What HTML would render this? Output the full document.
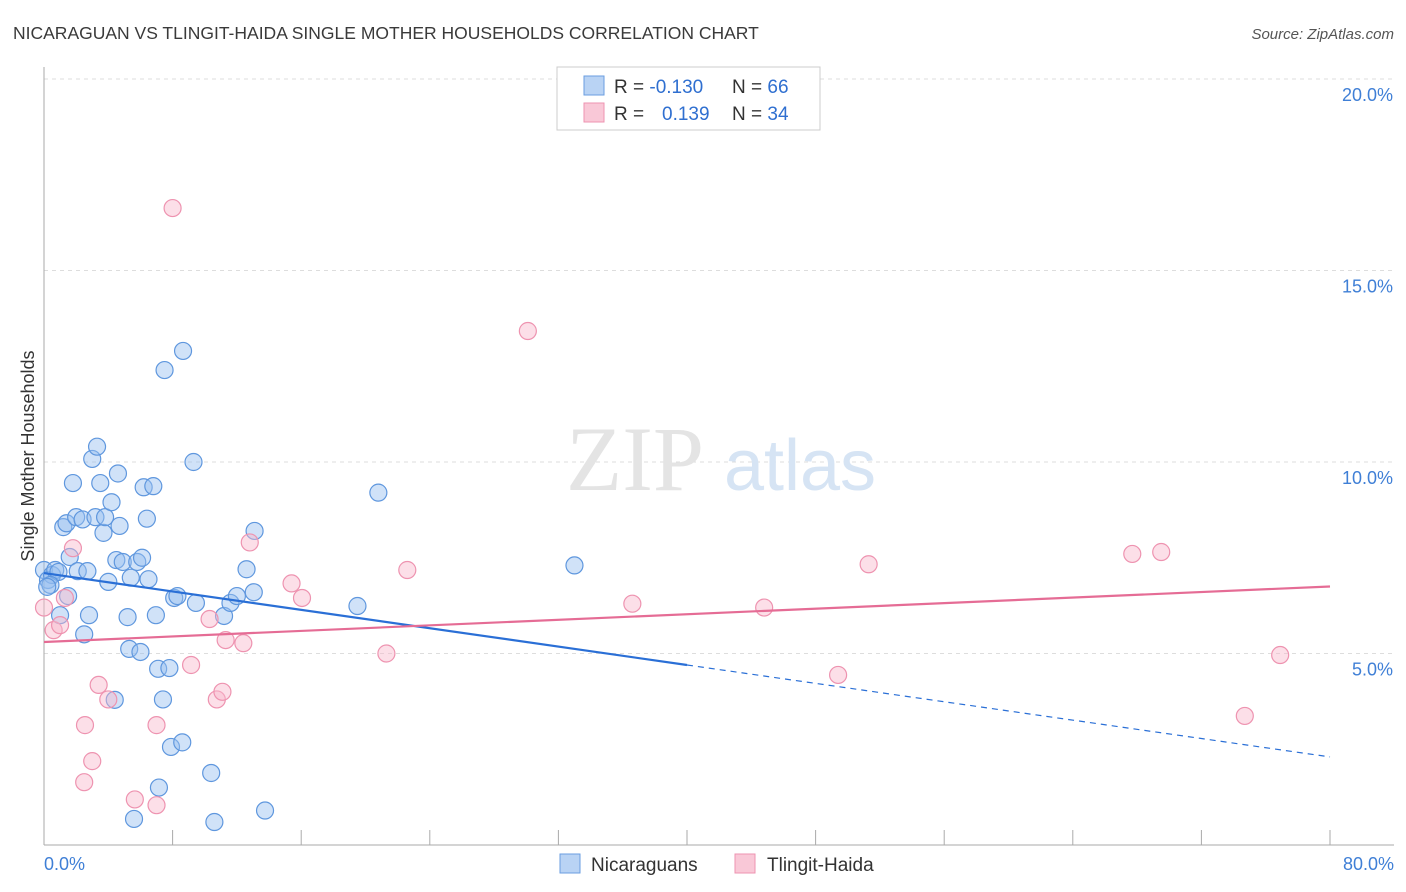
<!DOCTYPE html>
<html><head><meta charset="utf-8">
<style>
body{margin:0;background:#fff;font-family:"Liberation Sans",sans-serif;}
svg{display:block}
</style></head>
<body>
<svg id="chart" width="1406" height="892" viewBox="0 0 1406 892" xmlns="http://www.w3.org/2000/svg">
<text x="13" y="39" font-size="17.5" fill="#3a3a3a">NICARAGUAN VS TLINGIT-HAIDA SINGLE MOTHER HOUSEHOLDS CORRELATION CHART</text>
<text x="1394" y="39" font-size="15" fill="#555" text-anchor="end" font-style="italic">Source: ZipAtlas.com</text>
<g id="grid"></g>
<g>
<text x="635" y="490" font-size="92" font-family="Liberation Serif,serif" fill="#e4e4e4" text-anchor="middle">ZIP</text>
<text x="800" y="490" font-size="72" fill="#d6e4f4" text-anchor="middle">atlas</text>
</g>
<text transform="translate(34,456) rotate(-90)" font-size="18" fill="#333" text-anchor="middle">Single Mother Households</text>
<g id="pts"></g>
<g id="lines"></g>
<g>
<rect x="557" y="67" width="263" height="63" fill="#fff" stroke="#ccc"/>
<rect x="584" y="76" width="20" height="19" fill="#b9d3f4" stroke="#6a9ee0"/>
<rect x="584" y="103" width="20" height="19" fill="#f9c8d7" stroke="#ee93b0"/>
<text x="614" y="93" font-size="19" fill="#333">R = <tspan fill="#2f6fd0">-0.130</tspan></text>
<text x="732" y="93" font-size="19" fill="#333">N = <tspan fill="#2f6fd0">66</tspan></text>
<text x="614" y="120" font-size="19" fill="#333">R = <tspan fill="#2f6fd0" x="662">0.139</tspan></text>
<text x="732" y="120" font-size="19" fill="#333">N = <tspan fill="#2f6fd0">34</tspan></text>
</g>
<g>
<rect x="560" y="854" width="20" height="19" fill="#b9d3f4" stroke="#6a9ee0"/>
<text x="591" y="871" font-size="19" fill="#333">Nicaraguans</text>
<rect x="735" y="854" width="20" height="19" fill="#f9c8d7" stroke="#ee93b0"/>
<text x="767" y="871" font-size="19" fill="#333">Tlingit-Haida</text>
</g>
</svg>
<script>
const yTicks=[5,10,15,20];
const yTickLabels=["5.0%","10.0%","15.0%","20.0%"];
const xTickVals=[8,16,24,32,40,48,56,64,72,80];
const blueX=[0,0.25,0.5,0.7,0.9,0.4,0.2,1.0,1.2,1.4,1.6,1.5,1.8,2.0,2.1,2.4,2.5,2.7,2.8,3.0,3.2,3.3,3.5,3.7,3.8,4.0,4.2,4.4,4.5,4.6,4.7,4.9,5.2,5.3,5.4,5.6,5.8,6.0,6.1,6.2,6.4,6.5,6.8,6.96,7.1,7.15,7.4,7.5,7.8,7.9,8.1,8.3,8.6,8.65,9.3,9.45,10.4,10.6,11.2,11.6,12.0,12.6,13.05,13.1,13.75,19.5,20.8,33.0];
const blueY=[7.18,6.92,7.05,7.18,7.13,6.79,6.74,6.0,8.3,8.4,7.52,6.5,9.45,8.56,7.15,8.5,5.5,7.15,6.0,10.08,8.56,10.4,9.45,8.15,8.56,6.87,8.95,3.79,7.44,9.7,8.33,7.39,5.95,5.12,6.98,0.68,7.39,5.04,7.5,9.34,8.52,6.94,9.37,6.0,4.6,1.5,3.8,12.4,4.62,2.56,6.45,6.5,2.68,12.9,10.0,6.32,1.88,0.6,5.98,6.32,6.5,7.2,6.6,8.2,0.9,6.24,9.2,7.3];
const pinkX=[8.0,30.1,0,0.6,1.0,1.3,1.8,2.55,2.5,3.0,3.4,4.0,5.65,7.0,7.0,9.15,10.3,10.75,11.1,11.3,12.4,12.8,15.4,16.05,21.3,22.6,36.6,44.8,49.4,51.3,67.7,69.5,76.9,74.7];
const pinkY=[16.63,13.42,6.2,5.61,5.74,6.45,7.75,3.13,1.64,2.19,4.18,3.8,1.19,1.04,3.13,4.7,5.9,3.8,4.0,5.35,5.27,7.9,6.83,6.45,5.0,7.18,6.3,6.2,4.44,7.33,7.6,7.65,4.96,3.37];
const blueTrend=[7.1,2.3]; // values at x=0 and x=80
const pinkTrend=[5.3,6.75];
const solidEnd=40;
const X=v=>44+v*(1286/80), Y=v=>845-v*38.3;
const NS="http://www.w3.org/2000/svg";
function mk(tag,attrs,parent){const e=document.createElementNS(NS,tag);for(const k in attrs)e.setAttribute(k,attrs[k]);parent.appendChild(e);return e;}
const grid=document.getElementById('grid');
yTicks.forEach((t,i)=>{
 const l=mk('line',{x1:44,x2:1394,y1:Y(t),y2:Y(t),stroke:'#ddd','stroke-dasharray':'4,4'},grid);
 
 
 const tx=mk('text',{x:1393,y:Y(t)+22,'font-size':18,fill:'#3f7fd6','text-anchor':'end'},grid);
 tx.textContent=yTickLabels[i];
 
 
});
const ax=mk('line',{x1:44,x2:44,y1:67,y2:845,stroke:'#aaa'},grid);


const bx=mk('line',{x1:44,x2:1394,y1:845,y2:845,stroke:'#aaa'},grid);


xTickVals.forEach(t=>{
 const l=mk('line',{x1:X(t),x2:X(t),y1:830,y2:845,stroke:'#aaa'},grid);
 
 
});
const xl0=mk('text',{x:44,y:870,'font-size':18,fill:'#3f7fd6'},grid);xl0.textContent='0.0%';


const xl1=mk('text',{x:1394,y:870,'font-size':18,fill:'#3f7fd6','text-anchor':'end'},grid);xl1.textContent='80.0%';


const pts=document.getElementById('pts');
blueX.forEach((v,i)=>{
 const c=mk('circle',{cx:X(v),cy:Y(blueY[i]),r:8.5,fill:'rgba(150,190,240,0.45)',stroke:'#5f97de','stroke-width':1.2},pts);
 
 
});
pinkX.forEach((v,i)=>{
 const c=mk('circle',{cx:X(v),cy:Y(pinkY[i]),r:8.5,fill:'rgba(248,185,205,0.45)',stroke:'#ee93b0','stroke-width':1.2},pts);
 
 
});
const lines=document.getElementById('lines');
const bAt=x=>blueTrend[0]+(blueTrend[1]-blueTrend[0])*x/80;
const b1=mk('line',{x1:X(0),y1:Y(bAt(0)),x2:X(solidEnd),y2:Y(bAt(solidEnd)),stroke:'#2a6fd6','stroke-width':2.2},lines);


const b2=mk('line',{x1:X(solidEnd),y1:Y(bAt(solidEnd)),x2:X(80),y2:Y(bAt(80)),stroke:'#2a6fd6','stroke-width':1.2,'stroke-dasharray':'6,5'},lines);


const p1=mk('line',{x1:X(0),y1:Y(pinkTrend[0]),x2:X(80),y2:Y(pinkTrend[1]),stroke:'#e56c95','stroke-width':2.2},lines);


</script>
</body></html>
